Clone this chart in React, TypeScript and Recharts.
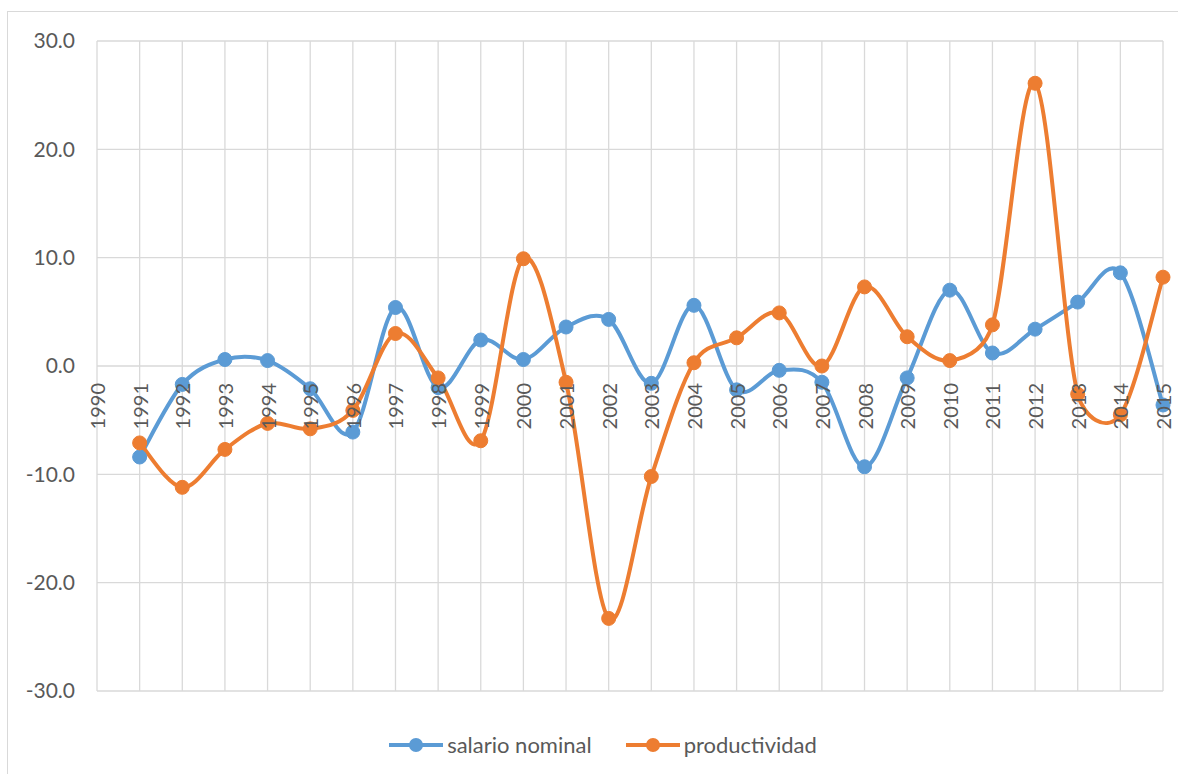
import React from "react";
import { LineChart, Line, XAxis, YAxis, CartesianGrid, Legend } from "recharts";

const years = [
  "1990", "1991", "1992", "1993", "1994", "1995", "1996", "1997", "1998", "1999",
  "2000", "2001", "2002", "2003", "2004", "2005", "2006", "2007", "2008", "2009",
  "2010", "2011", "2012", "2013", "2014", "2015",
];

const salarioNominal = [
  null, -8.4, -1.7, 0.6, 0.5, -2.1, -6.1, 5.4, -2.0, 2.4,
  0.6, 3.6, 4.3, -1.6, 5.6, -2.2, -0.4, -1.5, -9.3, -1.1,
  7.0, 1.2, 3.4, 5.9, 8.6, -3.6,
];

const productividad = [
  null, -7.1, -11.2, -7.7, -5.3, -5.8, -4.1, 3.0, -1.1, -6.9,
  9.9, -1.5, -23.3, -10.2, 0.3, 2.6, 4.9, 0.0, 7.3, 2.7,
  0.5, 3.8, 26.1, -2.6, -4.5, 8.2,
];

const yTicks = [-30, -20, -10, 0, 10, 20, 30];

const seriesOrder = ["salario nominal", "productividad"];

const data = years.map((year, i) => ({
  year,
  salario: salarioNominal[i],
  productividad: productividad[i],
}));

const BLUE = "#5B9BD5";
const ORANGE = "#ED7D31";
const TEXT = "#595959";
const GRID = "#d9d9d9";

// distance from the bottom of the plot up to where the year labels hang (just under 0)
const ZERO_SHIFT = 308;

// smoothing close to Excel's "smoothed line": catmull-rom bezier,
// handles limited to half of the segment so steep jumps don't overshoot
const excelSmooth = (context: any) => {
  let xs: number[] = [];
  let ys: number[] = [];
  const clamp = (hx: number, hy: number, len: number) => {
    const h = Math.hypot(hx, hy);
    const max = len / 2;
    if (h > max && h > 0) return [(hx * max) / h, (hy * max) / h];
    return [hx, hy];
  };
  return {
    areaStart() {},
    areaEnd() {},
    lineStart() {
      xs = [];
      ys = [];
    },
    point(x: number, y: number) {
      xs.push(+x);
      ys.push(+y);
    },
    lineEnd() {
      const n = xs.length;
      if (!n) return;
      context.moveTo(xs[0], ys[0]);
      for (let i = 0; i < n - 1; i++) {
        const a = Math.max(i - 1, 0);
        const d = Math.min(i + 2, n - 1);
        const len = Math.hypot(xs[i + 1] - xs[i], ys[i + 1] - ys[i]);
        const [h1x, h1y] = clamp((xs[i + 1] - xs[a]) / 6, (ys[i + 1] - ys[a]) / 6, len);
        const [h2x, h2y] = clamp((xs[d] - xs[i]) / 6, (ys[d] - ys[i]) / 6, len);
        context.bezierCurveTo(
          xs[i] + h1x,
          ys[i] + h1y,
          xs[i + 1] - h2x,
          ys[i + 1] - h2y,
          xs[i + 1],
          ys[i + 1]
        );
      }
    },
  };
};

const YearTick = (props: any) => {
  const { x, y, payload } = props;
  const ty = y - ZERO_SHIFT;
  return (
    <text
      x={x}
      y={ty}
      transform={`rotate(-90, ${x}, ${ty})`}
      textAnchor="end"
      dominantBaseline="central"
      fill={TEXT}
      fontSize={20}
    >
      {payload.value}
    </text>
  );
};

const renderLegend = (props: any) => {
  const payload = [...(props.payload || [])].sort(
    (p: any, q: any) => seriesOrder.indexOf(p.value) - seriesOrder.indexOf(q.value)
  );
  return (
    <div
      style={{
        display: "flex",
        justifyContent: "center",
        alignItems: "center",
        gap: 34,
        fontSize: 22,
        color: TEXT,
        paddingLeft: 20,
      }}
    >
      {payload.map((entry: any) => (
        <div key={entry.value} style={{ display: "flex", alignItems: "center" }}>
          <svg width={54} height={16}>
            <line x1={0} x2={54} y1={8} y2={8} stroke={entry.color} strokeWidth={4} />
            <circle cx={27} cy={8} r={7} fill={entry.color} />
          </svg>
          <span style={{ marginLeft: 4 }}>{entry.value}</span>
        </div>
      ))}
    </div>
  );
};

export default function App() {
  return (
    <div
      style={{
        position: "absolute",
        left: 7,
        top: 11,
        width: 1171,
        height: 763,
        boxSizing: "border-box",
        borderLeft: `1px solid ${GRID}`,
        borderTop: `1px solid ${GRID}`,
        overflow: "hidden",
        fontFamily: "Lato, sans-serif",
        background: "#fff",
      }}
    >
      <LineChart
        width={1170}
        height={762}
        data={data}
        margin={{ top: 29, right: 15, bottom: 58, left: 29 }}
      >
        <CartesianGrid stroke={GRID} strokeWidth={1.3} />
        <XAxis
          dataKey="year"
          scale="point"
          padding={{ left: 0, right: 0 }}
          interval={0}
          height={1}
          tickSize={0}
          tickMargin={0}
          axisLine={false}
          tickLine={false}
          tick={<YearTick />}
        />
        <YAxis
          width={60}
          domain={[-30, 30]}
          ticks={yTicks}
          tickFormatter={(v: number) => v.toFixed(1)}
          axisLine={false}
          tickLine={false}
          tickSize={0}
          tickMargin={22}
          tick={{ fill: TEXT, fontSize: 21 }}
        />
        <Legend
          verticalAlign="bottom"
          content={renderLegend}
          wrapperStyle={{ bottom: 19, height: 24, left: 0, width: 1170 }}
        />
        <Line
          name="salario nominal"
          dataKey="salario"
          type={excelSmooth as any}
          stroke={BLUE}
          strokeWidth={4}
          dot={{ r: 7, fill: BLUE, stroke: BLUE, strokeWidth: 1 }}
          activeDot={false}
          isAnimationActive={false}
        />
        <Line
          name="productividad"
          dataKey="productividad"
          type={excelSmooth as any}
          stroke={ORANGE}
          strokeWidth={4}
          dot={{ r: 7, fill: ORANGE, stroke: ORANGE, strokeWidth: 1 }}
          activeDot={false}
          isAnimationActive={false}
        />
      </LineChart>
    </div>
  );
}
